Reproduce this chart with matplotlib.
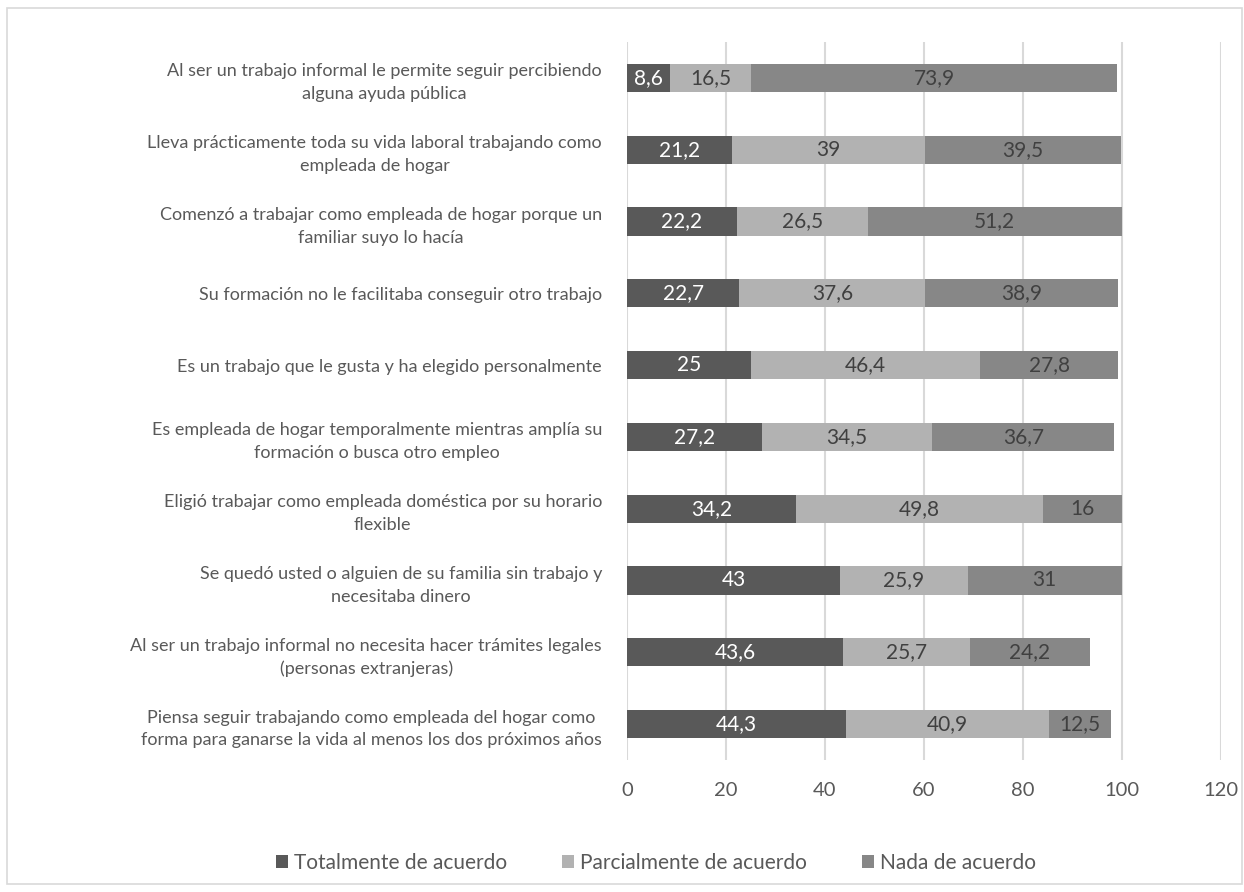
import numpy as np
import matplotlib
matplotlib.use("Agg")
import matplotlib.pyplot as plt
from matplotlib.patches import Rectangle

plt.rcParams['font.family'] = ['Lato', 'DejaVu Sans']

# categories, top to bottom
categories = [
    "Al ser un trabajo informal le permite seguir percibiendo\nalguna ayuda pública",
    "Lleva prácticamente toda su vida laboral trabajando como\nempleada de hogar",
    "Comenzó a trabajar como empleada de hogar porque un\nfamiliar suyo lo hacía",
    "Su formación no le facilitaba conseguir otro trabajo",
    "Es un trabajo que le gusta y ha elegido personalmente",
    "Es empleada de hogar temporalmente mientras amplía su\nformación o busca otro empleo",
    "Eligió trabajar como empleada doméstica por su horario\nflexible",
    "Se quedó usted o alguien de su familia sin trabajo y\nnecesitaba dinero",
    "Al ser un trabajo informal no necesita hacer trámites legales\n(personas extranjeras)",
    "Piensa seguir trabajando como empleada del hogar como\nforma para ganarse la vida al menos los dos próximos años",
]
totalmente = [8.6, 21.2, 22.2, 22.7, 25, 27.2, 34.2, 43, 43.6, 44.3]
parcialmente = [16.5, 39, 26.5, 37.6, 46.4, 34.5, 49.8, 25.9, 25.7, 40.9]
nada = [73.9, 39.5, 51.2, 38.9, 27.8, 36.7, 16, 31, 24.2, 12.5]
series_names = ["Totalmente de acuerdo", "Parcialmente de acuerdo", "Nada de acuerdo"]
colors = ["#595959", "#B2B2B2", "#878787"]
label_colors = ["white", "#404040", "#404040"]

W, H = 1244, 892
FS = 15
fig = plt.figure(figsize=(W / 100, H / 100), dpi=100)
ax = fig.add_axes([627 / W, 1 - 760 / H, (1221 - 627) / W, (760 - 42) / H])

# figure border
fig.patches.append(Rectangle((7 / W, 8 / H), (1242 - 7) / W, (884 - 8) / H,
                             transform=fig.transFigure, fill=False,
                             edgecolor="#D9D9D9", linewidth=1.2))

y = np.arange(len(categories))
left = np.zeros(len(categories))
for vals, name, col, tcol in zip([totalmente, parcialmente, nada], series_names, colors, label_colors):
    vals = np.array(vals, dtype=float)
    bars = ax.barh(y, vals, left=left, height=0.39, color=col, label=name, zorder=3)
    for b, v in zip(bars, vals):
        txt = ("%g" % v).replace(".", ",")
        ax.text(b.get_x() + b.get_width() / 2, b.get_y() + b.get_height() / 2, txt,
                ha="center", va="center", color=tcol, fontsize=FS, zorder=4)
    left += vals

ax.set_ylim(len(categories) - 0.5, -0.5)
ax.set_xlim(0, 120)
ax.set_xticks(range(0, 121, 20))
ax.set_yticks(y)
ax.set_yticklabels(categories, multialignment="center", linespacing=1.5)
ax.tick_params(axis="y", length=0, pad=18, labelsize=13, labelcolor="#595959")
ax.tick_params(axis="x", length=0, pad=16, labelsize=14.5, labelcolor="#595959")
ax.grid(axis="x", color="#D9D9D9", linewidth=1.5, zorder=0)
for s in ax.spines.values():
    s.set_visible(False)

handles, labels = ax.get_legend_handles_labels()
fig.legend(handles, labels, loc="center", bbox_to_anchor=(656 / W, 1 - 863 / H),
           ncol=3, frameon=False, fontsize=FS, handlelength=0.6, handleheight=0.6,
           handletextpad=0.3, columnspacing=2.6, labelcolor="#595959")

fig.savefig("out.png", dpi=100)
